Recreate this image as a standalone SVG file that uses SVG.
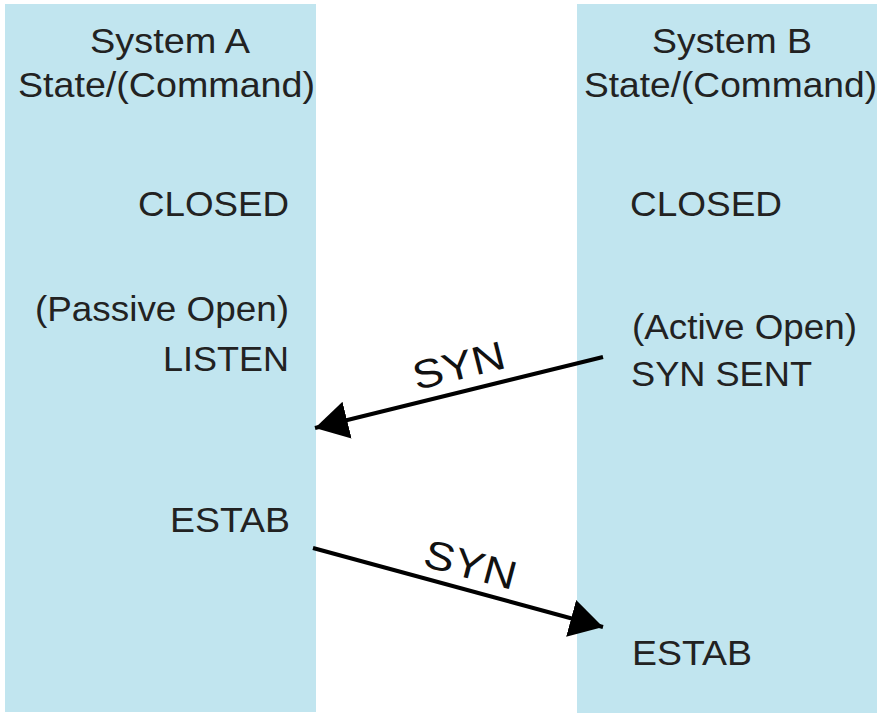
<svg xmlns="http://www.w3.org/2000/svg" width="877" height="713" viewBox="0 0 877 713">
<style>
.col{fill:#c1e5ef}
.t{font-family:"Liberation Sans",Arial,sans-serif;font-size:34.5px;fill:#222}
.s{font-family:"Liberation Sans",Arial,sans-serif;font-size:40px;fill:#111}
.c{stroke:#000;stroke-width:4;fill:none}
</style>
<defs>
<marker id="ah" markerUnits="userSpaceOnUse" markerWidth="36" markerHeight="40" refX="33" refY="19" orient="auto">
<path d="M0,0 L33,19 L0,38 z" fill="#000"/>
</marker>
</defs>
<rect width="877" height="713" fill="#fff"/>
<g id="systemA">
<rect class="col" x="5" y="4" width="311" height="708"/>
<text class="t" x="90" y="53" textLength="160" lengthAdjust="spacingAndGlyphs">System A</text>
<text class="t" x="18" y="97" textLength="297" lengthAdjust="spacingAndGlyphs">State/(Command)</text>
<text class="t" x="138" y="216" textLength="151" lengthAdjust="spacingAndGlyphs">CLOSED</text>
<text class="t" x="35" y="321" textLength="254" lengthAdjust="spacingAndGlyphs">(Passive Open)</text>
<text class="t" x="163" y="371" textLength="126" lengthAdjust="spacingAndGlyphs">LISTEN</text>
<text class="t" x="170" y="532" textLength="120" lengthAdjust="spacingAndGlyphs">ESTAB</text>
</g>
<g id="systemB">
<rect class="col" x="577" y="4" width="300" height="709"/>
<text class="t" x="652" y="53" textLength="160" lengthAdjust="spacingAndGlyphs">System B</text>
<text class="t" x="584" y="97" textLength="293" lengthAdjust="spacingAndGlyphs">State/(Command)</text>
<text class="t" x="630" y="216" textLength="152" lengthAdjust="spacingAndGlyphs">CLOSED</text>
<text class="t" x="632" y="339" textLength="225" lengthAdjust="spacingAndGlyphs">(Active Open)</text>
<text class="t" x="631" y="386" textLength="181" lengthAdjust="spacingAndGlyphs">SYN SENT</text>
<text class="t" x="632" y="665" textLength="120" lengthAdjust="spacingAndGlyphs">ESTAB</text>
</g>
<g id="connectors">
<line class="c" x1="603" y1="357" x2="315" y2="428" marker-end="url(#ah)"/>
<text class="s" x="462" y="379" text-anchor="middle" textLength="94" lengthAdjust="spacingAndGlyphs" transform="rotate(-14 462 379)">SYN</text>
<line class="c" x1="313" y1="548" x2="603" y2="627" marker-end="url(#ah)"/>
<text class="s" x="467" y="578" text-anchor="middle" textLength="94" lengthAdjust="spacingAndGlyphs" transform="rotate(15 467 578)">SYN</text>
</g>
</svg>
